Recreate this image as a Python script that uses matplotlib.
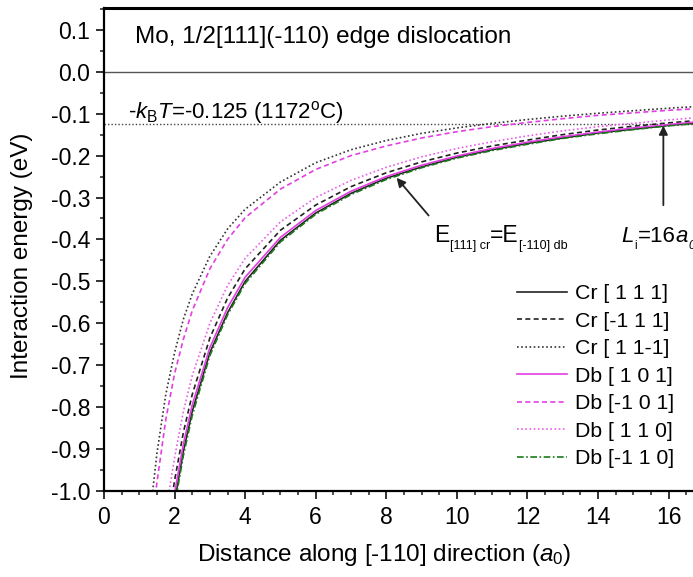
import matplotlib
matplotlib.use("Agg")
import matplotlib.pyplot as plt
from matplotlib.ticker import MultipleLocator, FuncFormatter

plt.rcParams['font.family'] = ['Liberation Sans', 'DejaVu Sans']
plt.rcParams['mathtext.fontset'] = 'custom'
plt.rcParams['mathtext.rm'] = 'Liberation Sans'
plt.rcParams['mathtext.it'] = 'Liberation Sans:italic'
plt.rcParams['mathtext.bf'] = 'Liberation Sans:bold'

# distance along [-110] (a0)
x = [1.3, 1.4, 1.5, 1.75, 2, 2.25, 2.5, 3, 3.5, 4, 5, 6, 7, 8, 9, 10, 11, 12, 13, 14, 15, 16, 17]

cr_111 = [-1.58, -1.46, -1.37, -1.17, -1.025, -0.905, -0.81, -0.67, -0.575, -0.50, -0.402, -0.337, -0.29,
          -0.254, -0.227, -0.204, -0.186, -0.171, -0.158, -0.146, -0.137, -0.128, -0.121]
cr_m111 = [-1.50, -1.39, -1.30, -1.11, -0.975, -0.86, -0.77, -0.635, -0.54, -0.47, -0.378, -0.318, -0.274,
           -0.241, -0.215, -0.194, -0.177, -0.163, -0.150, -0.139, -0.130, -0.122, -0.115]
cr_11m1 = [-1.07, -0.985, -0.91, -0.77, -0.67, -0.59, -0.53, -0.44, -0.375, -0.328, -0.263, -0.217, -0.186,
           -0.164, -0.147, -0.134, -0.123, -0.114, -0.106, -0.099, -0.093, -0.087, -0.082]
db_101 = [-1.55, -1.44, -1.34, -1.15, -1.005, -0.888, -0.795, -0.658, -0.563, -0.49, -0.395, -0.331, -0.285,
          -0.25, -0.223, -0.201, -0.183, -0.168, -0.155, -0.144, -0.134, -0.126, -0.118]
db_m101 = [-1.13, -1.05, -0.98, -0.83, -0.72, -0.638, -0.57, -0.47, -0.4, -0.348, -0.28, -0.233, -0.2,
           -0.177, -0.158, -0.143, -0.131, -0.121, -0.112, -0.104, -0.098, -0.092, -0.087]
db_110 = [-1.42, -1.31, -1.23, -1.05, -0.92, -0.81, -0.725, -0.6, -0.51, -0.445, -0.358, -0.3, -0.259,
          -0.228, -0.203, -0.183, -0.167, -0.153, -0.141, -0.131, -0.123, -0.115, -0.108]
db_m110 = [-1.59, -1.48, -1.38, -1.18, -1.035, -0.915, -0.82, -0.677, -0.58, -0.505, -0.406, -0.34, -0.293,
           -0.257, -0.229, -0.206, -0.188, -0.173, -0.159, -0.148, -0.138, -0.129, -0.122]

labels = ["Cr [ 1 1 1]", "Cr [-1 1 1]", "Cr [ 1 1-1]", "Db [ 1 0 1]", "Db [-1 0 1]", "Db [ 1 1 0]", "Db [-1 1 0]"]
series = [cr_111, cr_m111, cr_11m1, db_101, db_m101, db_110, db_m110]
colors = ["#222222", "#222222", "#333333", "#e23ee2", "#e23ee2", "#e860e8", "#1a7a1a"]
styles = ["-", (0, (3, 2)), (0, (1, 1.5)), "-", (0, (3, 2)), (0, (1, 1.5)), (0, (4, 1.5, 1, 1.5))]

kT = -0.125
L_i = 16

fig = plt.figure(figsize=(6.93, 5.77), dpi=100)
ax = fig.add_axes([104/693, 1 - 491/577, 1 - 104/693, (491 - 8)/577])

ax.axhline(0.0, color="#555555", lw=1.0, zorder=1)
ax.axhline(kT, color="#444444", lw=1.0, ls=(0, (1, 1.5)), zorder=1)

for ys, lab, c, s in zip(series, labels, colors, styles):
    ax.plot(x, ys, color=c, ls=s, lw=1.2, label=lab)

ax.set_xlim(0, 16.69)
ax.set_ylim(-1.0, 0.152)
ax.xaxis.set_major_locator(MultipleLocator(2))
ax.xaxis.set_minor_locator(MultipleLocator(0.5))
ax.yaxis.set_major_locator(MultipleLocator(0.1))
ax.yaxis.set_minor_locator(MultipleLocator(0.05))
ax.yaxis.set_major_formatter(FuncFormatter(lambda v, p: f"{v:.1f}"))
ax.tick_params(which="major", direction="out", length=6, width=1.3, labelsize=16.5, color="#222222")
ax.tick_params(axis="x", which="major", pad=5)
ax.tick_params(axis="y", which="major", pad=4)
ax.tick_params(which="minor", direction="out", length=3, width=1.1, color="#222222")
ax.spines['right'].set_visible(False)
ax.spines['top'].set_linewidth(2.2)
ax.spines['left'].set_linewidth(1.6)
ax.spines['bottom'].set_linewidth(1.6)

ax.set_xlabel("Distance along [-110] direction ($a_0$)", fontsize=17.5)
ax.xaxis.set_label_coords(0.475, -0.105)
ax.set_ylabel("Interaction energy (eV)", fontsize=17.5)
ax.yaxis.set_label_coords(-0.12, 0.487)

ax.text(0.88, 0.069, "Mo, 1/2[111](-110) edge dislocation", fontsize=17.5, va="baseline", ha="left")
ax.text(0.68, -0.112, r"-$k_{\rm B}T$=-0.125 (1172$^{\rm o}$C)", fontsize=16, va="baseline", ha="left")


def chain(x0, y0, pieces):
    first = None
    prev = None
    for s, size, dy, style in pieces:
        if first is None:
            t = ax.text(x0, y0, s, fontsize=size, style=style, va="baseline", ha="left")
            first = t
        else:
            t = ax.annotate(s, xy=(1, 0), xycoords=(prev, first), xytext=(0.3, dy),
                            textcoords="offset points", fontsize=size, style=style,
                            va="bottom", ha="left", annotation_clip=False)
        prev = t


ax.annotate("", xy=(8.24, -0.248), xytext=(9.25, -0.348),
            arrowprops=dict(arrowstyle="-|>", color="#222222", lw=1.3, mutation_scale=13))
chain(9.35, -0.406, [("E", 16.5, 0, "normal"), ("[111] cr", 9, -3.5, "normal"),
                     ("=E", 16.5, 0, "normal"), ("[-110] db", 9, -3.5, "normal")])

ax.annotate("", xy=(15.85, -0.122), xytext=(15.85, -0.325),
            arrowprops=dict(arrowstyle="-|>", color="#222222", lw=1.3, mutation_scale=13))
chain(14.67, -0.406, [("L", 16, 0, "italic"), ("i", 8.5, -3.5, "normal"),
                      (f"={L_i}", 16, 0, "normal"), ("a", 16, 0, "italic"), ("0", 8.5, -3.5, "italic")])

ax.legend(loc="upper left", bbox_to_anchor=(517/693, 1 - 284/577), bbox_transform=fig.transFigure,
          frameon=False, fontsize=15.3, handlelength=2.35, handletextpad=0.38,
          labelspacing=0.40, borderaxespad=0, borderpad=0)

fig.savefig("out.png", dpi=100)
